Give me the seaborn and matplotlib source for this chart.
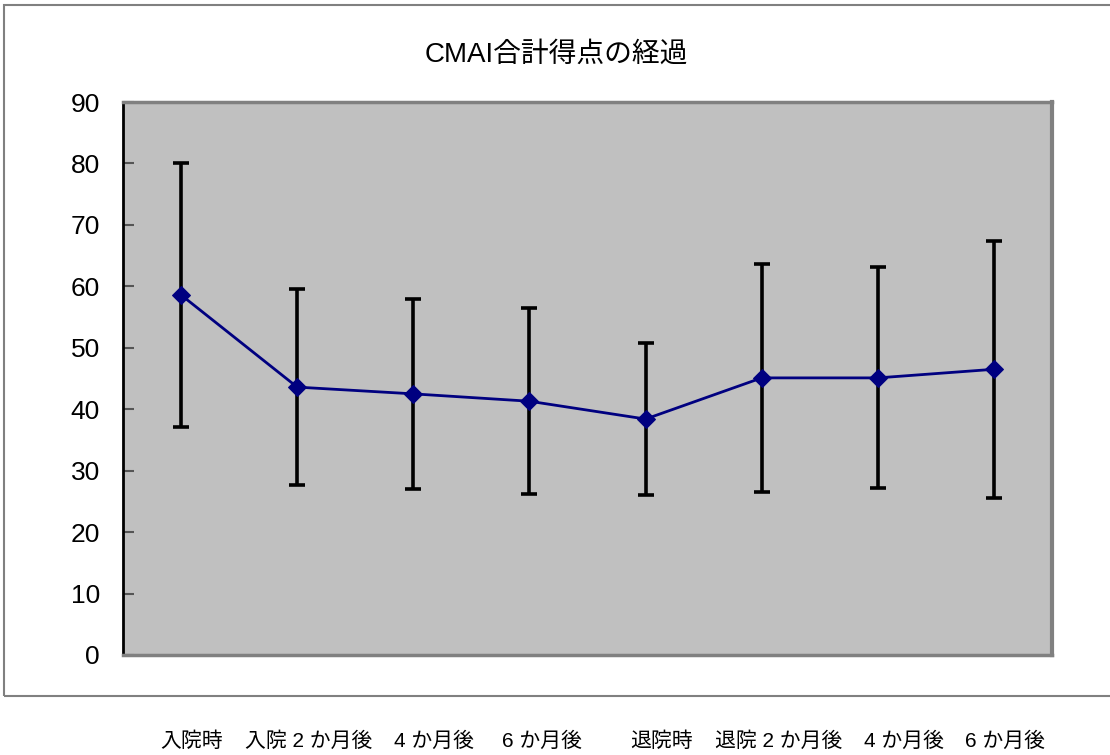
import matplotlib
matplotlib.use("Agg")
import matplotlib.pyplot as plt
import seaborn as sns
import numpy as np
import pandas as pd
from matplotlib.patches import Rectangle

# ---- data ----
categories = ["入院時", "入院 2 か月後", "4 か月後", "6 か月後",
              "退院時", "退院 2 か月後", "4 か月後", "6 か月後"]
means = [58.6, 43.6, 42.5, 41.3, 38.4, 45.1, 45.1, 46.5]
sds = [21.5, 16.0, 15.5, 15.1, 12.3, 18.6, 18.0, 20.9]
yticks = [0, 10, 20, 30, 40, 50, 60, 70, 80, 90]
title = "CMAI合計得点の経過"

sns.set_theme(style="white")
plt.rcParams['font.family'] = ['Liberation Sans', 'Noto Sans CJK JP', 'DejaVu Sans']
plt.rcParams['text.color'] = 'black'
plt.rcParams['ytick.color'] = 'black'
plt.rcParams['ytick.labelcolor'] = 'black'

df = pd.DataFrame({"idx": np.arange(len(means)), "mean": means, "sd": sds})

fig = plt.figure(figsize=(11.1, 7.55), dpi=100)
ax = fig.add_axes([123/1110, 1 - 655/755, 929/1110, 553/755])
ax.set_facecolor("#C0C0C0")

ax.errorbar(df["idx"], df["mean"], yerr=df["sd"], fmt="none", ecolor="black",
            elinewidth=2.6, capsize=6, capthick=2.6, zorder=2)
sns.lineplot(data=df, x="idx", y="mean", ax=ax, color="#000080", linewidth=2,
             marker="D", markersize=9, markeredgecolor="#000080",
             markerfacecolor="#000080", zorder=3)

ax.set_xlim(-0.5, len(means) - 0.5)
ax.set_ylim(0, 90)
ax.set_yticks(yticks)
ax.set_yticklabels([str(t) for t in yticks], fontsize=19, color="black")
ax.set_xticks([])
ax.set_xlabel("")
ax.set_ylabel("")
ax.tick_params(axis="y", direction="in", length=8, width=1.5, color="#555555",
               pad=16.5, left=True)

for side in ["top", "right", "bottom"]:
    ax.spines[side].set_color("#808080")
ax.spines["top"].set_linewidth(2.5)
ax.spines["right"].set_linewidth(3)
ax.spines["bottom"].set_linewidth(2.5)
ax.spines["left"].set_color("black")
ax.spines["left"].set_linewidth(2)

fig.text(556/1110, 1 - 55/755, title, ha="center", va="center", fontsize=20,
         color="black")

# outer chart-area border
fig.patches.append(Rectangle((4/1110, 1 - 696/755), 1.2, (696 - 5)/755,
                             transform=fig.transFigure, fill=False,
                             edgecolor="#808080", linewidth=1.5))

label_x = [192, 309, 434, 542, 662, 779, 904, 1005]
for lx, lab in zip(label_x, categories):
    fig.text(lx/1110, 1 - 741/755, lab, ha="center", va="center", fontsize=15,
             color="black")

fig.savefig("out.png", dpi=100)
